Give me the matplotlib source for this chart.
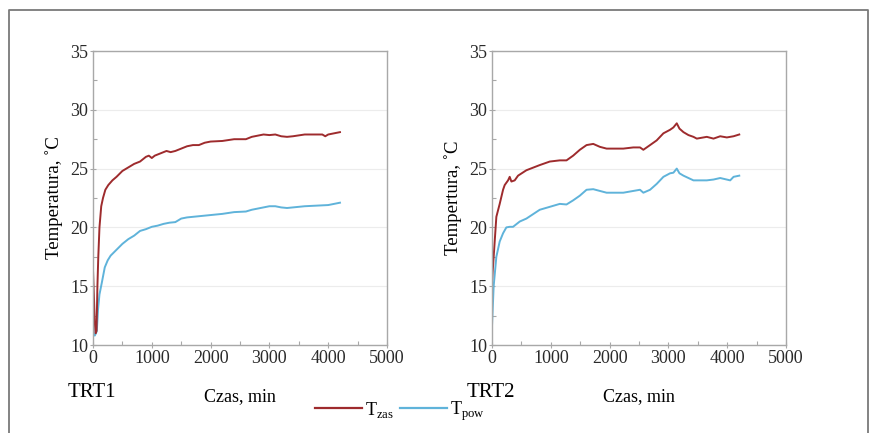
import matplotlib.pyplot as plt
from matplotlib.ticker import MultipleLocator
from matplotlib.lines import Line2D

plt.rcParams['font.family'] = ['Liberation Serif', 'DejaVu Serif']
plt.rcParams['mathtext.fontset'] = 'custom'
plt.rcParams['mathtext.rm'] = 'Liberation Serif'

# TRT1 (time in min, temperature in C)
t1_zas = [0, 30, 45, 60, 75, 90, 110, 140, 170, 210, 260, 330, 400, 500, 600, 700, 800,
          900, 950, 1000, 1050, 1150, 1250, 1320, 1400, 1500, 1600, 1700, 1800, 1900, 2000,
          2200, 2400, 2500, 2600, 2700, 2800, 2900, 3000, 3100, 3200, 3300, 3400, 3600,
          3800, 3900, 3950, 4000, 4100, 4200]
T1_zas = [16.4, 12.0, 11.0, 11.2, 15.0, 17.5, 20.0, 21.8, 22.5, 23.2, 23.6, 24.0, 24.3, 24.8,
          25.1, 25.4, 25.6, 26.0, 26.1, 25.9, 26.1, 26.3, 26.5, 26.4, 26.5, 26.7, 26.9, 27.0,
          27.0, 27.2, 27.3, 27.35, 27.5, 27.5, 27.5, 27.7, 27.8, 27.9, 27.85, 27.9, 27.75,
          27.7, 27.75, 27.9, 27.9, 27.9, 27.75, 27.9, 28.0, 28.1]
t1_pow = [0, 10, 30, 50, 65, 85, 110, 150, 200, 250, 300, 400, 500, 600, 700, 800, 900, 1000,
          1100, 1200, 1300, 1400, 1500, 1600, 1700, 1800, 2000, 2200, 2400, 2600, 2700, 2800,
          3000, 3100, 3200, 3300, 3400, 3600, 3800, 4000, 4100, 4200]
T1_pow = [15.6, 11.0, 10.8, 11.0, 11.2, 13.0, 14.3, 15.3, 16.6, 17.2, 17.6, 18.1, 18.6, 19.0,
          19.3, 19.7, 19.85, 20.05, 20.15, 20.3, 20.4, 20.45, 20.75, 20.85, 20.9, 20.95, 21.05,
          21.15, 21.3, 21.35, 21.5, 21.6, 21.8, 21.8, 21.7, 21.65, 21.7, 21.8, 21.85, 21.9,
          22.0, 22.1]

# TRT2
t2_zas = [0, 74, 131, 188, 216, 273, 301, 330, 386, 443, 585, 812, 983, 1153, 1267, 1380,
          1494, 1608, 1722, 1835, 1949, 2233, 2403, 2517, 2574, 2688, 2801, 2915, 3028, 3085,
          3142, 3188, 3256, 3341, 3426, 3483, 3653, 3767, 3881, 3994, 4108, 4205]
T2_zas = [15.4, 20.9, 22.0, 23.2, 23.6, 24.0, 24.3, 23.9, 24.0, 24.4, 24.86, 25.3, 25.6, 25.7,
          25.7, 26.1, 26.6, 27.0, 27.1, 26.85, 26.7, 26.7, 26.8, 26.8, 26.6, 27.0, 27.4, 28.0,
          28.3, 28.5, 28.85, 28.4, 28.1, 27.85, 27.7, 27.55, 27.7, 27.55, 27.75, 27.65, 27.75,
          27.9]
t2_pow = [0, 28, 74, 131, 188, 244, 301, 358, 472, 585, 812, 983, 1153, 1267, 1380, 1494,
          1608, 1722, 1835, 1949, 2233, 2403, 2517, 2574, 2688, 2801, 2915, 3028, 3085, 3142,
          3188, 3256, 3341, 3426, 3653, 3767, 3881, 4051, 4108, 4205]
T2_pow = [11.6, 15.0, 17.5, 18.8, 19.5, 20.0, 20.05, 20.05, 20.5, 20.75, 21.5, 21.75, 22.0,
          21.95, 22.3, 22.7, 23.2, 23.25, 23.1, 22.95, 22.95, 23.1, 23.2, 22.95, 23.2, 23.7,
          24.3, 24.6, 24.65, 25.0, 24.6, 24.4, 24.2, 24.0, 24.0, 24.07, 24.2, 24.0, 24.3, 24.4]

RED = '#9e2b2d'
BLUE = '#5fb3da'
W, H = 871, 433

fig = plt.figure(figsize=(W / 100, H / 100), dpi=100)

panels = [
    (93, t1_zas, T1_zas, t1_pow, T1_pow, 'Temperatura, ˚C', 'TRT1'),
    (492, t2_zas, T2_zas, t2_pow, T2_pow, 'Tempertura, ˚C', 'TRT2'),
]

for left, tz, Tz, tp, Tp, ylab, name in panels:
    ax = fig.add_axes([left / W, 1 - 345 / H, 294 / W, 294 / H])
    ax.plot(tp, Tp, color=BLUE, lw=1.4)
    ax.plot(tz, Tz, color=RED, lw=1.4)
    ax.set_xlim(0, 5000)
    ax.set_ylim(10, 35)
    ax.xaxis.set_major_locator(MultipleLocator(1000))
    ax.xaxis.set_minor_locator(MultipleLocator(500))
    ax.yaxis.set_major_locator(MultipleLocator(5))
    ax.yaxis.set_minor_locator(MultipleLocator(2.5))
    ax.grid(axis='y', color='#ececec', lw=0.8)
    ax.set_axisbelow(True)
    for s in ax.spines.values():
        s.set_color('#a8a8a8')
        s.set_linewidth(1.0)
    ax.tick_params(which='major', direction='inout', length=5, width=0.8, color='#a8a8a8',
                   labelsize=13, labelcolor='#2a2a2a', pad=1)
    ax.tick_params(which='minor', direction='in', length=3, width=0.8, color='#a8a8a8')
    ax.set_ylabel(ylab, fontsize=13.5, labelpad=5)
    ax.set_xlabel('Czas, min', fontsize=13, labelpad=15)
    fig.text((left - 25) / W, 1 - 397 / H, name, fontsize=15, va='baseline')

handles = [Line2D([], [], color=RED, lw=1.6), Line2D([], [], color=BLUE, lw=1.6)]
fig.legend(handles, ['T$_{\\mathrm{zas}}$', 'T$_{\\mathrm{pow}}$'], loc='center',
           bbox_to_anchor=(400 / W, 1 - 411 / H), ncol=2, frameon=False, fontsize=13,
           handlelength=2.6, handletextpad=0.2, columnspacing=0.3)

# frame around the figure (no bottom edge)
fx = [9 / W, 9 / W, 868 / W, 868 / W]
fy = [0, 1 - 10 / H, 1 - 10 / H, 0]
fig.add_artist(Line2D(fx, fy, color='#7a7a7a', lw=1.3, transform=fig.transFigure))

fig.savefig('out.png', dpi=100)
